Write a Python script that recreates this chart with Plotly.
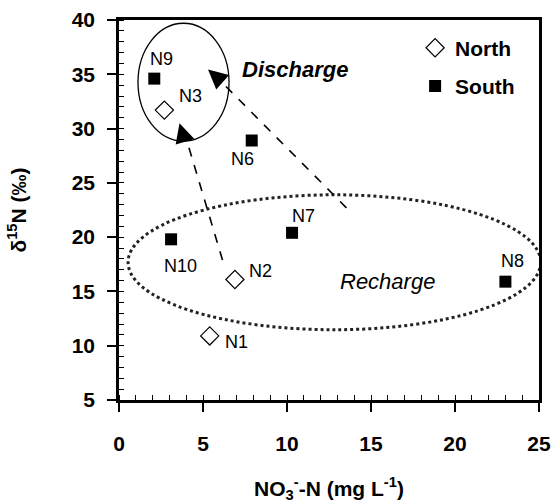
import plotly.graph_objects as go

# Data
north_names = ["N1", "N2", "N3"]
north_x = [5.4, 6.9, 2.7]
north_y = [10.9, 16.1, 31.7]

south_names = ["N6", "N7", "N8", "N9", "N10"]
south_x = [7.9, 10.3, 23.0, 2.1, 3.1]
south_y = [28.9, 20.4, 15.9, 34.6, 19.8]

x_ticks = [0, 5, 10, 15, 20, 25]
y_ticks = [5, 10, 15, 20, 25, 30, 35, 40]

# label pixel offsets (style, not data)
north_off = [(27, 6), (26, -8), (26, -14)]
south_off = [(-9, 18), (11, -17), (7, -21), (7, -20), (9, 27)]

FONT = "Arial, Liberation Sans, sans-serif"

fig = go.Figure()

fig.add_trace(go.Scatter(
    x=north_x, y=north_y, mode="markers", name="<b>North</b>",
    marker=dict(symbol="diamond-open", size=14, color="black", line=dict(width=1.2)),
    legendgroup="a",
))
fig.add_trace(go.Scatter(
    x=south_x, y=south_y, mode="markers", name="<b>South</b>",
    marker=dict(symbol="square", size=12, color="black"),
    legendgroup="b",
))

shapes = [
    dict(type="circle", xref="x", yref="y", x0=1.13, x1=6.55, y0=28.84, y1=39.7,
         line=dict(color="black", width=1.3)),
    dict(type="circle", xref="x", yref="y", x0=0.54, x1=25.1, y0=11.47, y1=23.9,
         line=dict(color="#222", width=3, dash="dot")),
    dict(type="line", xref="x", yref="y", x0=6.16, y0=17.9, x1=3.9, y1=29.6,
         line=dict(color="black", width=1.6, dash="dash")),
    dict(type="line", xref="x", yref="y", x0=13.54, y0=22.7, x1=5.9, y1=34.6,
         line=dict(color="black", width=1.6, dash="dash")),
]

annotations = [
    dict(x=3.6, y=30.5, ax=3.85, ay=29.2, xref="x", yref="y", axref="x", ayref="y",
         showarrow=True, arrowhead=2, arrowsize=2.6, arrowwidth=1.5, arrowcolor="black", text=""),
    dict(x=5.3, y=35.45, ax=5.85, ay=34.7, xref="x", yref="y", axref="x", ayref="y",
         showarrow=True, arrowhead=2, arrowsize=2.6, arrowwidth=1.5, arrowcolor="black", text=""),
    dict(x=10.47, y=35.45, xref="x", yref="y", text="<b><i>Discharge</i></b>", showarrow=False,
         font=dict(family=FONT, size=22, color="black")),
    dict(x=15.96, y=15.9, xref="x", yref="y", text="<i>Recharge</i>", showarrow=False,
         font=dict(family=FONT, size=22, color="black")),
]

for names, xs, ys, offs in [(north_names, north_x, north_y, north_off),
                            (south_names, south_x, south_y, south_off)]:
    for n, xv, yv, (dx, dy) in zip(names, xs, ys, offs):
        annotations.append(dict(x=xv, y=yv, xref="x", yref="y", text=n, showarrow=False,
                                xshift=dx, yshift=-dy,
                                font=dict(family=FONT, size=18, color="black")))

fig.update_layout(
    width=554, height=503,
    margin=dict(l=119, r=15, t=20, b=103, autoexpand=False),
    paper_bgcolor="white", plot_bgcolor="white",
    shapes=shapes, annotations=annotations,
    showlegend=True,
    legend=dict(x=0.705, y=0.98, xanchor="left", yanchor="top",
                font=dict(family=FONT, size=21, color="black"),
                bgcolor="rgba(0,0,0,0)", traceorder="grouped", tracegroupgap=8,
                itemwidth=30),
    font=dict(family=FONT, color="black"),
)

fig.update_xaxes(
    range=[0, 25], tickvals=x_ticks, ticktext=[f"<b>{v}</b>" for v in x_ticks],
    automargin=False, showgrid=False, zeroline=False,
    showline=True, linecolor="black", linewidth=2.5, mirror=True,
    ticks="outside", ticklen=9, tickwidth=2, tickcolor="black",
    minor=dict(ticks="inside", ticklen=5, tickwidth=1, tickcolor="black", dtick=1, showgrid=False),
    tickfont=dict(family=FONT, size=21, color="black"),
    ticklabelstandoff=14,
    title=dict(text="<b>NO</b><sub><b>3</b></sub><sup><b>-</b></sup><b>-N (mg L</b><sup><b>-1</b></sup><b>)</b>",
               font=dict(family=FONT, size=21, color="black", weight="bold"), standoff=30),
)
fig.update_yaxes(
    range=[5, 40], tickvals=y_ticks, ticktext=[f"<b>{v}</b>" for v in y_ticks],
    automargin=False, showgrid=False, zeroline=False,
    showline=True, linecolor="black", linewidth=2.5, mirror=True,
    ticks="outside", ticklen=9, tickwidth=2, tickcolor="black",
    minor=dict(ticks="inside", ticklen=5, tickwidth=1, tickcolor="black", dtick=1, showgrid=False),
    tickfont=dict(family=FONT, size=21, color="black"),
    ticklabelstandoff=8,
    title=dict(text="<b>δ</b><sup><b>15</b></sup><b>N (‰)</b>",
               font=dict(family=FONT, size=21, color="black", weight="bold"), standoff=40),
)

fig.write_html("out.html")
